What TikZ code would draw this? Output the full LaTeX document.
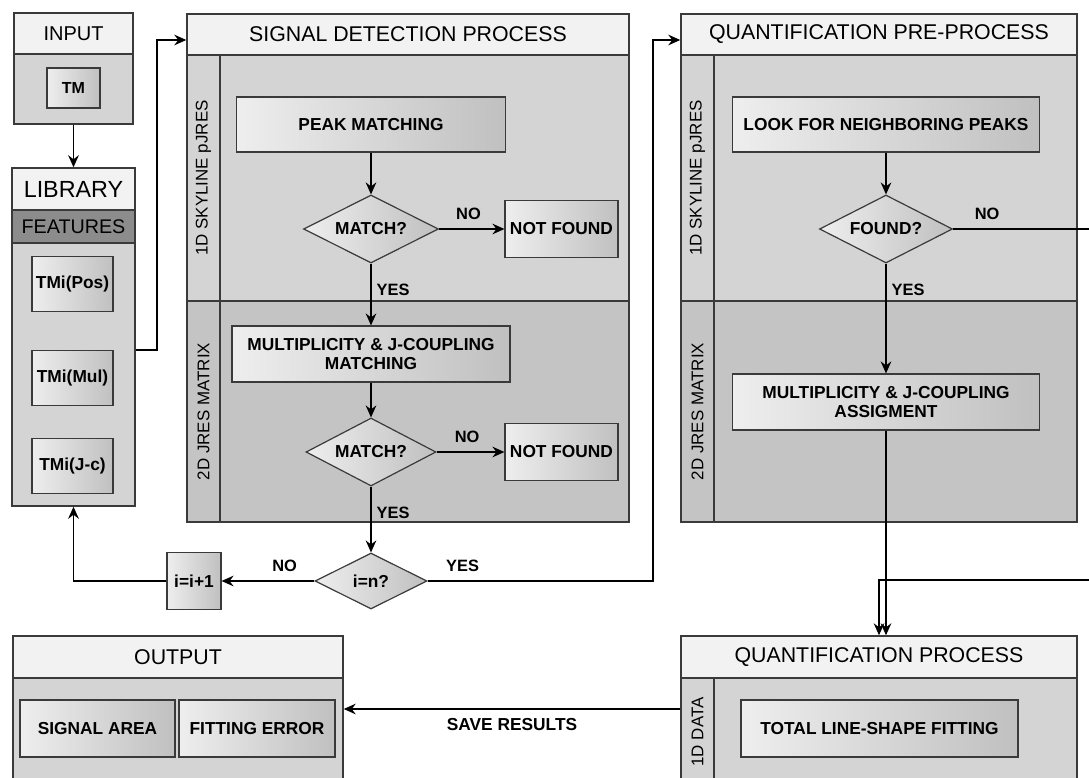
\documentclass[tikz,border=0pt]{standalone}
\usepackage{fontspec}
\setmainfont{Liberation Sans}
\usetikzlibrary{positioning, calc, arrows.meta, shapes.geometric}
\definecolor{Frame}{HTML}{3A3A3A}
\definecolor{Head}{HTML}{F2F2F2}
\definecolor{LaneA}{HTML}{D4D4D4}
\definecolor{LaneB}{HTML}{C4C4C4}
\definecolor{Band}{HTML}{8C8C8C}
\definecolor{BoxL}{HTML}{EEEEEE}
\definecolor{BoxR}{HTML}{C0C0C0}
\tikzset{
    sz/.style 2 args={minimum width=#1*0.75pt, minimum height=#2*0.75pt},
    headnode/.style={rectangle, draw=Frame, fill=Head, line width=1.1pt, inner sep=0pt, font=\fontsize{16}{19}\selectfont},
    bodynode/.style={rectangle, draw=Frame, fill=LaneA, line width=1.1pt, inner sep=0pt},
    boxnode/.style={rectangle, draw=Frame, line width=0.9pt, left color=BoxL, right color=BoxR, align=center, inner sep=0pt, font=\bfseries\fontsize{13}{14}\selectfont},
    decnode/.style={diamond, shape aspect=2, draw=Frame, line width=0.9pt, left color=BoxL, right color=BoxR, inner sep=0pt, font=\bfseries\fontsize{13}{14}\selectfont},
    lanelabel/.style={rotate=90, font=\fontsize{12.7}{15}\selectfont},
    flowlabel/.style={font=\bfseries\fontsize{12.3}{14}\selectfont},
    lane/.style={draw=Frame, line width=1.1pt},
    arrow/.style={-{Stealth[length=9pt, width=8pt, inset=3pt]}, line width=0.9pt, color=black},
}

\begin{document}
\begin{tikzpicture}[x=0.75pt, y=-0.75pt]
    \useasboundingbox (0,0) rectangle (1089,778);
    \clip (0,0) rectangle (1089,778);
    \fill[white] (0,0) rectangle (1089,778);

    % Input
    \node[headnode, sz={119}{41}, font=\fontsize{15}{18}\selectfont] (inputhead) at (73.5,33.5) {INPUT};
    \node[bodynode, sz={119}{70}] (inputbody) at (73.5,89) {};
    \node[boxnode, sz={53}{40}, font=\bfseries\fontsize{12}{13}\selectfont] (tm) at (73.5,88) {TM};

    % Library
    \node[headnode, sz={123}{42}, font=\fontsize{17.5}{20}\selectfont] (libhead) at (73.5,189) {LIBRARY};
    \node[bodynode, sz={123}{33}, fill=Band, font=\fontsize{14.8}{17}\selectfont] (libband) at (73.5,226.5) {FEATURES};
    \node[bodynode, sz={123}{263}] (libbody) at (73.5,374.5) {};
    \node[boxnode, sz={81}{55}] (tmpos) at (72.5,284) {TMi(Pos)};
    \node[boxnode, sz={81}{55}] (tmmul) at (72.5,378) {TMi(Mul)};
    \node[boxnode, sz={81}{55}] (tmjc) at (72.5,466) {TMi(J-c)};

    % Signal detection process
    \node[headnode, sz={442}{41}] (sdhead) at (408,34.5) {SIGNAL DETECTION PROCESS};
    \draw[lane, fill=LaneA] (187,55) rectangle (629,301);
    \draw[lane, fill=LaneB] (187,301) rectangle (629,522);
    \draw[lane] (220,55) -- (220,522);
    \node[lanelabel] (sdlaneA) at (203.5,178) {1D SKYLINE pJRES};
    \node[lanelabel] (sdlaneB) at (203.5,411.5) {2D JRES MATRIX};

    \node[boxnode, sz={269}{55}] (peak) at (371,124.5) {PEAK MATCHING};
    \node[decnode, sz={135}{68}] (matchA) at (371,229) {MATCH?};
    \node[boxnode, sz={113}{57}] (nfA) at (561.5,229) {NOT FOUND};
    \node[boxnode, sz={278}{56}] (multA) at (371,354) {MULTIPLICITY \& J-COUPLING\\MATCHING};
    \node[decnode, sz={130}{68}] (matchB) at (371,452) {MATCH?};
    \node[boxnode, sz={113}{57}] (nfB) at (561.5,452) {NOT FOUND};
    \node[decnode, sz={112}{56}] (ieqn) at (371,581) {i=n?};
    \node[boxnode, sz={54}{57}] (inc) at (194,581) {i=i+1};

    % Quantification pre-process
    \node[headnode, sz={396}{41}] (qprehead) at (879,34.5) {QUANTIFICATION PRE-PROCESS};
    \draw[lane, fill=LaneA] (681,55) rectangle (1077,301);
    \draw[lane, fill=LaneB] (681,301) rectangle (1077,522);
    \draw[lane] (714,55) -- (714,522);
    \node[lanelabel] (qplaneA) at (697.5,178) {1D SKYLINE pJRES};
    \node[lanelabel] (qplaneB) at (697.5,411.5) {2D JRES MATRIX};

    \node[boxnode, sz={307}{55}] (look) at (886,124.5) {LOOK FOR NEIGHBORING PEAKS};
    \node[decnode, sz={133}{68}] (found) at (886,229) {FOUND?};
    \node[boxnode, sz={307}{56}] (assign) at (886,402) {MULTIPLICITY \& J-COUPLING\\ASSIGMENT};

    % Quantification process
    \node[headnode, sz={396}{42}] (qprochead) at (879,657) {QUANTIFICATION PROCESS};
    \node[bodynode, sz={396}{112}] (qprocbody) at (879,734) {};
    \draw[lane] (714,678) -- (714,790);
    \node[lanelabel] (qproclane) at (697.5,732) {1D DATA};
    \node[boxnode, sz={277}{57}] (fit) at (879.5,728.5) {TOTAL LINE-SHAPE FITTING};

    % Output
    \node[headnode, sz={330}{42}] (outhead) at (178,657) {OUTPUT};
    \node[bodynode, sz={330}{112}] (outbody) at (178,734) {};
    \node[boxnode, sz={155}{57}] (area) at (97.5,728.5) {SIGNAL AREA};
    \node[boxnode, sz={156}{57}] (ferr) at (257,728.5) {FITTING ERROR};

    % Connettori
    \coordinate (jumpA) at (157,40);
    \coordinate (jumpB) at (653,40);
    \coordinate (rimC) at (1095,580);
    \coordinate (saverow) at (512,709);

    \draw[arrow] (inputbody.south) -- (libhead.north);
    \draw[arrow] ([yshift=18.4pt]libbody.east) -| (jumpA) -- (jumpA -| sdhead.west);

    \draw[arrow] (peak) -- (matchA);
    \draw[arrow] (matchA) -- node[flowlabel, above=3.5pt, pos=0.45] {NO} (nfA);
    \draw[arrow] (matchA) -- node[flowlabel, right=0.5pt, pos=0.43] {YES} (multA);
    \draw[arrow] (multA) -- (matchB);
    \draw[arrow] (matchB) -- node[flowlabel, above=3.5pt, pos=0.45] {NO} (nfB);
    \draw[arrow] (matchB) -- node[flowlabel, right=0.5pt, pos=0.4] {YES} (ieqn);
    \draw[arrow] (ieqn) -- node[flowlabel, above=3.5pt, pos=0.32] {NO} (inc);
    \draw[arrow] (inc.west) -| (libbody.south);
    \draw[arrow] (ieqn.east) -- node[flowlabel, above=3.5pt, pos=0.155] {YES} (ieqn.east -| jumpB) -- (jumpB) -- (jumpB -| qprehead.west);

    \draw[arrow] (look) -- (found);
    \draw[arrow] (found) -- node[flowlabel, right=0.5pt, pos=0.24] {YES} (assign);
    \draw[arrow] (found.east) -- node[flowlabel, above=3.5pt, pos=0.24] {NO} (found.east -| rimC) -- (rimC) -- (qprochead.north |- rimC) -- (qprochead.north);
    \draw[arrow] (assign.south) -- (assign.south |- qprochead.north);

    \draw[arrow] (qprocbody.west |- saverow) -- node[flowlabel, below=3.5pt, font=\bfseries\fontsize{13}{14}\selectfont] {SAVE RESULTS} (outbody.east |- saverow);
\end{tikzpicture}
\end{document}
